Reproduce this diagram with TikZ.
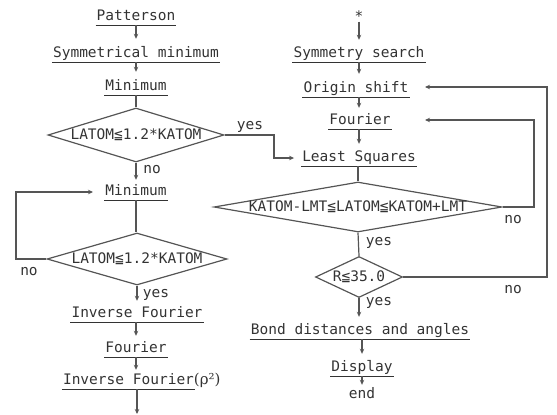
\documentclass[tikz,border=0pt]{standalone}
\usepackage{fontspec}
\usetikzlibrary{arrows.meta,shapes.geometric}
\newfontfamily\tdfont{DejaVu Sans Mono}[Scale=1]
\newfontfamily\rhofont{DejaVu Serif}
\definecolor{ink}{HTML}{333333}
\definecolor{lnc}{HTML}{555555}
\begin{document}
\begin{tikzpicture}[x=1pt,y=-1pt,
  txt/.style={font=\tdfont\fontsize{14.5}{16}\selectfont, text=ink, inner xsep=1pt, inner ysep=1pt, text height=10pt, text depth=4pt, anchor=base},
  lab/.style={font=\tdfont\fontsize{14.5}{16}\selectfont, text=ink, inner sep=0pt},
  ul/.style={draw=ink, line width=1.3pt},
  ln/.style={draw=lnc, line width=1.2pt},
  arr/.style={ln, -{Stealth[length=5pt,width=4.5pt]}},
  dia/.style={diamond, draw=lnc, line width=1.2pt, inner sep=0pt}]
\useasboundingbox (0,0) rectangle (557,415);
% left column
\node[txt] (pat) at (136,20) {Patterson};
\node[txt] (sym) at (136,57) {Symmetrical minimum};
\node[txt] (min1) at (136,90) {Minimum};
\node[dia, minimum width=176pt, minimum height=54pt] (d1) at (136,135) {};
\node[lab] (d1t) at (d1) {LATOM≦1.2*KATOM};
\node[txt] (min2) at (136,195) {Minimum};
\node[dia, minimum width=180pt, minimum height=52pt] (d2) at (137,259) {};
\node[lab] (d2t) at (d2) {LATOM≦1.2*KATOM};
\node[txt] (invf) at (137,317) {Inverse Fourier};
\node[txt] (fou) at (136,352) {Fourier};
\node[txt] (invf2) at (128.5,384) {Inverse Fourier\rlap{\rhofont\fontsize{15}{16}\selectfont(ρ²)}};
\coordinate (bot) at (137,414);
% right column
\node[lab] (star) at (359,16) {*};
\node[txt] (syms) at (359,57) {Symmetry search};
\node[txt] (orig) at (356,92) {Origin shift};
\node[txt] (four) at (360,124) {Fourier};
\node[txt] (lsq) at (359,161) {Least Squares};
\node[dia, minimum width=288pt, minimum height=50pt] (d3) at (358,207) {};
\node[lab] (d3t) at (d3) {KATOM-LMT≦LATOM≦KATOM+LMT};
\node[dia, minimum width=87pt, minimum height=41pt] (d4) at (359,277) {};
\node[lab] (d4t) at (d4) {R≦35.0};
\node[txt] (bond) at (360,334) {Bond distances and angles};
\node[txt] (disp) at (362,371) {Display};
\node[txt] (endn) at (362,398) {end};
% underlines
\foreach \n in {pat,sym,min1,min2,invf,fou,invf2,syms,orig,four,lsq,bond,disp}
  \draw[ul] (\n.south west) -- (\n.south east);
% labels
\node[lab] (y1) at (250,127) {yes};
\node[lab] (n1) at (152,170) {no};
\node[lab] (n2) at (29,272) {no};
\node[lab] (y2) at (156,295) {yes};
\node[lab] (n3) at (513,220) {no};
\node[lab] (n4) at (513,290) {no};
\node[lab] (y3) at (379,243) {yes};
\node[lab] (y4) at (379,303) {yes};
% coordinates
\coordinate (ya) at (274,146);
\coordinate (c2) at (16,230);
\coordinate (t2) at (93,192);
\coordinate (c3) at (534,160);
\coordinate (t3) at (425,120);
\coordinate (c4) at (547,200);
\coordinate (t4) at (425,87);
% left connectors
\draw[arr, shorten >=7pt] (pat.south) -- (sym.north);
\draw[arr, shorten >=7pt] (sym.south) -- (min1.north);
\draw[ln] (min1.south) -- (d1.north);
\draw[arr, shorten >=4pt] (d1.south) -- (min2.north);
\draw[ln] (min2.south) -- (min2.south |- d2.north);
\draw[arr, shorten >=5pt] (d2.south) -- (d2.south |- invf.north);
\draw[arr, shorten >=5pt] (invf.south -| fou.south) -- (fou.north);
\draw[arr, shorten >=3pt] (fou.south) -- (fou.south |- invf2.north);
\draw[arr] (bot |- invf2.south) -- (bot);
\draw[arr] (d2.west) -| (c2) |- (t2);
\draw[arr, shorten >=7pt] (d1.east) -| (ya) |- (lsq.west);
% right connectors
\draw[arr, shorten >=6pt] (star.south) -- (star.south |- syms.north);
\draw[arr, shorten >=7pt] (syms.south) -- (syms.south |- orig.north);
\draw[arr, shorten >=5pt] (syms.south |- orig.south) -- (syms.south |- four.north);
\draw[arr, shorten >=6pt] (syms.south |- four.south) -- (syms.south |- lsq.north);
\draw[ln] (lsq.south) -- (lsq.south -| d3.north) -- (d3.north);
\draw[ln] (d3.south) -- (d4.north);
\draw[arr, shorten >=6pt] (d4.south) -- (d4.south |- bond.north);
\draw[arr, shorten >=6pt] (bond.south -| disp.south) -- (disp.north);
\draw[arr, shorten >=2pt] (disp.south) -- (endn.north);
\draw[arr] (d3.east) -| (c3) |- (t3);
\draw[arr] (d4.east) -| (c4) |- (t4);
\end{tikzpicture}
\end{document}
